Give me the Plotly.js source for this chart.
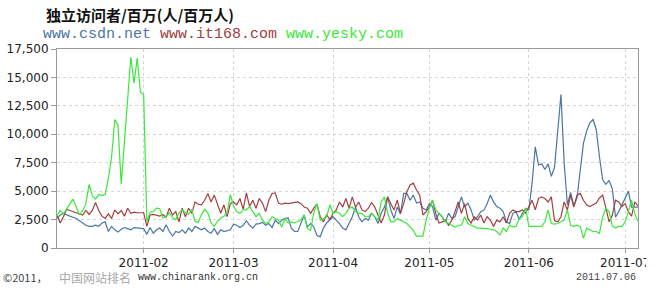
<!DOCTYPE html>
<html>
<head>
<meta charset="utf-8">
<script src="https://cdn.plot.ly/plotly-3.0.1.min.js"></script>
<style>
html,body{margin:0;padding:0;background:#fff;}
#chart{width:656px;height:292px;}
</style>
</head>
<body>
<div id="chart"></div>
<script>
// ---- data (values in thousands; daily from 2011-01-05 to 2011-07-05) ----
var startDate = '2011-01-05';
var seriesNames = ['www.csdn.net', 'www.it168.com', 'www.yesky.com'];
var seriesColors = ['#4a76a4', '#a04040', '#3ae83a'];

var csdn = [
  // Jan 5-31
  2.6, 2.9, 3.05, 2.9, 2.8, 2.7, 2.6, 2.4, 2.2, 2.0, 1.9, 1.9, 2.0, 1.9, 2.2, 2.3, 1.45, 1.9, 1.6, 1.4, 1.65, 1.8, 1.7, 1.6, 1.8, 1.75, 1.7,
  // Feb
  1.7, 1.2, 1.8, 1.3, 1.6, 1.75, 1.45, 2.05, 1.45, 1.05, 1.45, 1.35, 1.6, 1.3, 1.75, 1.45, 1.9, 1.75, 1.6, 1.75, 1.45, 1.3, 1.7, 1.2, 1.6, 1.45, 1.55, 1.6,
  // Mar
  2.1, 2.0, 1.8, 2.0, 2.4, 2.0, 1.75, 2.1, 2.15, 2.25, 2.0, 2.15, 1.8, 2.45, 2.15, 2.45, 2.6, 2.65, 1.75, 1.45, 1.45, 2.2, 2.9, 1.85, 2.15, 1.85, 1.1, 1.0, 1.75, 2.2, 2.5,
  // Apr
  2.75, 2.45, 2.15, 1.75, 1.6, 2.15, 2.75, 3.6, 2.75, 2.3, 2.6, 2.45, 3.05, 2.75, 2.15, 3.05, 3.6, 4.5, 3.35, 2.6, 3.6, 3.0, 4.8, 4.8, 4.2, 4.65, 3.95, 4.05, 3.5, 3.35,
  // May
  3.9, 3.65, 2.45, 3.05, 2.75, 2.3, 3.05, 2.6, 2.75, 3.6, 4.5, 3.6, 3.95, 3.35, 2.45, 2.75, 3.2, 3.35, 3.9, 4.65, 4.05, 3.65, 3.5, 3.2, 2.3, 2.15, 3.05, 3.2, 2.5, 3.05, 3.5,
  // Jun
  3.35, 5.7, 8.9, 7.3, 7.4, 6.9, 7.4, 6.3, 7.1, 10.5, 13.5, 7.5, 3.8, 4.9, 3.7, 4.4, 7.0, 9.2, 10.3, 11.0, 11.3, 10.4, 8.0, 6.0, 5.6, 5.95, 5.2, 2.7, 3.2, 3.8,
  // Jul 1-5
  4.4, 5.0, 3.6, 3.6, 3.6
];

var it168 = [
  // Jan 5-31
  2.9, 2.2, 2.75, 3.4, 3.3, 3.2, 3.1, 3.0, 2.9, 3.3, 2.95, 3.3, 4.0, 3.3, 2.8, 2.6, 3.0, 2.6, 3.35, 3.0, 3.3, 2.8, 3.5, 3.05, 3.15, 3.1, 3.1,
  // Feb
  3.1, 1.9, 2.9, 2.95, 2.85, 2.8, 2.95, 2.7, 3.5, 2.9, 3.2, 2.3, 3.5, 2.75, 3.5, 3.05, 4.05, 3.85, 3.8, 4.2, 4.8, 4.05, 4.65, 3.8, 3.05, 3.8, 2.75, 3.9,
  // Mar
  4.05, 3.8, 4.35, 3.4, 4.85, 3.65, 4.2, 3.5, 4.35, 3.95, 3.2, 4.2, 4.8, 4.85, 3.95, 3.85, 3.95, 3.9, 3.95, 4.0, 4.05, 3.9, 3.6, 3.5, 3.05, 3.5, 3.85, 2.75, 2.3, 2.9, 2.5,
  // Apr
  3.05, 3.35, 4.05, 3.6, 4.35, 3.5, 4.5, 3.6, 4.05, 3.35, 3.2, 3.5, 4.0, 3.6, 2.9, 2.2, 2.9, 4.5, 3.9, 3.35, 4.2, 3.05, 3.9, 4.95, 5.55, 5.7, 5.1, 4.65, 2.9, 3.2,
  // May
  3.6, 4.2, 3.05, 2.2, 2.3, 2.45, 2.0, 2.45, 3.2, 4.05, 3.05, 3.9, 2.6, 2.2, 2.75, 2.45, 2.9, 2.2, 2.75, 2.45, 1.9, 2.45, 2.3, 2.75, 2.2, 3.05, 3.35, 3.2, 3.2, 3.35, 3.05,
  // Jun
  3.6, 4.2, 3.35, 4.35, 4.5, 4.35, 4.05, 4.5, 2.4, 2.3, 2.75, 4.05, 3.35, 4.65, 3.6, 4.65, 4.8, 4.2, 3.8, 3.65, 3.8, 3.95, 4.4, 4.65, 3.5, 2.3, 2.9, 4.2, 4.05, 3.65,
  // Jul 1-5
  3.9, 3.2, 2.8, 4.05, 3.7
];

var yesky = [
  // Jan 5-31
  2.8, 3.3, 3.0, 3.4, 3.8, 4.3, 3.6, 2.9, 3.3, 3.9, 5.6, 4.6, 4.3, 4.7, 4.6, 4.7, 6.1, 8.0, 11.3, 10.8, 5.6, 9.7, 13.0, 16.8, 14.5, 16.7, 13.7,
  // Feb
  13.5, 2.3, 3.15, 3.2, 3.5, 3.45, 2.65, 2.75, 3.1, 2.65, 2.5, 3.1, 3.35, 3.1, 2.95, 3.4, 2.35, 2.25, 2.95, 3.4, 3.1, 2.2, 1.9, 2.35, 2.65, 2.8, 3.1, 4.7,
  // Mar
  3.7, 3.2, 3.05, 3.35, 3.35, 3.65, 3.2, 2.75, 3.05, 2.45, 2.15, 2.3, 2.75, 2.6, 2.45, 1.85, 2.6, 2.2, 2.3, 2.2, 2.3, 2.45, 2.9, 1.7, 1.55, 3.1, 3.9, 2.45, 2.6, 2.75, 3.8,
  // Apr
  3.05, 3.2, 3.05, 2.75, 3.05, 3.5, 3.6, 3.2, 3.05, 3.05, 2.75, 2.75, 3.05, 2.75, 2.45, 4.05, 4.5, 3.05, 2.3, 2.3, 2.6, 2.45, 2.3, 2.15, 1.85, 1.55, 1.05, 1.05, 1.05, 2.45,
  // May
  3.5, 4.2, 3.35, 3.05, 2.75, 2.3, 2.15, 2.0, 1.85, 2.0, 2.0, 2.75, 2.15, 2.0, 1.85, 1.75, 1.75, 1.75, 1.7, 1.65, 1.6, 1.45, 1.15, 1.75, 1.45, 2.0, 1.85, 1.9, 2.6, 2.75, 3.5,
  // Jun
  1.9, 1.9, 1.9, 1.9, 1.9, 2.3, 3.35, 2.15, 2.1, 2.15, 2.3, 2.45, 3.35, 2.0, 1.9, 2.0, 1.9, 0.85, 1.75, 1.6, 1.45, 1.45, 1.3, 2.75, 3.5, 3.2, 1.95, 1.75, 1.9, 1.9,
  // Jul 1-5
  2.3, 3.2, 4.2, 3.0, 2.35
];

var xTickVals = ['2011-02-01', '2011-03-01', '2011-04-01', '2011-05-01', '2011-06-01', '2011-07-01'];
var xTickText = ['2011-02', '2011-03', '2011-04', '2011-05', '2011-06', '2011-07'];
var yTickVals = [0, 2.5, 5, 7.5, 10, 12.5, 15, 17.5];
var yTickText = ['0', '2,500', '5,000', '7,500', '10,000', '12,500', '15,000', '17,500'];

var titleText = '独立访问者/百万(人/百万人)';
var footerCopy = '©2011，';
var footerName = '中国网站排名';
var footerSite = 'www.chinarank.org.cn';
var footerDate = '2011.07.06';

// ---- build dates ----
function buildDates(start, n) {
  var out = [];
  var d = new Date(start + 'T00:00:00Z');
  for (var i = 0; i < n; i++) {
    var t = new Date(d.getTime() + i * 86400000);
    out.push(t.toISOString().slice(0, 10));
  }
  return out;
}
var dates = buildDates(startDate, csdn.length);

var allSeries = [csdn, it168, yesky];
var traces = allSeries.map(function (vals, i) {
  return {
    type: 'scatter', mode: 'lines', x: dates, y: vals, name: seriesNames[i],
    line: {color: seriesColors[i], width: 1.2}, hoverinfo: 'skip'
  };
});

// pixel helpers for annotation placement
var L = 57, R = 638, T = 49, B = 248;
function px(x) { return (x - L) / (R - L); }
function py(y) { return (B - y) / (B - T); }

var legendHtml = seriesNames.map(function (n, i) {
  return '<span style="color:' + seriesColors[i] + '">' + n + '</span>';
}).join(' ');

var layout = {
  width: 656, height: 292,
  margin: {l: L, r: 656 - R, t: T, b: 292 - B, pad: 0},
  paper_bgcolor: '#ffffff', plot_bgcolor: '#ffffff',
  showlegend: false,
  xaxis: {
    type: 'date', range: [dates[0], dates[dates.length - 1]],
    tickmode: 'array', tickvals: xTickVals, ticktext: xTickText,
    showgrid: true, gridcolor: '#d6d6d6', griddash: '3px,3px', gridwidth: 1,
    showline: true, mirror: true, linecolor: '#9a9a9a', linewidth: 1,
    ticks: 'outside', ticklen: 4, tickcolor: '#9a9a9a',
    tickfont: {family: 'DejaVu Sans', size: 12, color: '#222'},
    zeroline: false, fixedrange: true
  },
  yaxis: {
    range: [0, 17.5],
    tickmode: 'array', tickvals: yTickVals, ticktext: yTickText,
    showgrid: true, gridcolor: '#d6d6d6', griddash: '3px,3px', gridwidth: 1,
    showline: true, mirror: true, linecolor: '#9a9a9a', linewidth: 1,
    ticks: 'outside', ticklen: 5, tickcolor: '#9a9a9a',
    tickfont: {family: 'DejaVu Sans', size: 12, color: '#222'},
    zeroline: false, fixedrange: true
  },
  shapes: [{
    type: 'rect', layer: 'above', xref: 'paper', yref: 'paper',
    x0: px(646), x1: px(660), y0: py(272), y1: py(249.5),
    fillcolor: '#ffffff', line: {width: 0}
  }],
  annotations: [
    {text: '<b>' + titleText + '</b>', xref: 'paper', yref: 'paper', x: px(44), y: py(14),
     xanchor: 'left', yanchor: 'middle', showarrow: false,
     font: {family: 'Noto Sans CJK SC', size: 15, color: '#111'}},
    {text: legendHtml, xref: 'paper', yref: 'paper', x: px(41), y: py(35),
     xanchor: 'left', yanchor: 'middle', showarrow: false,
     font: {family: 'Liberation Mono', size: 15, color: '#333'}},
    {text: footerCopy, xref: 'paper', yref: 'paper', x: px(1), y: py(277),
     xanchor: 'left', yanchor: 'middle', showarrow: false,
     font: {family: 'Noto Sans CJK SC', size: 11, color: '#444'}},
    {text: footerName, xref: 'paper', yref: 'paper', x: px(57), y: py(277),
     xanchor: 'left', yanchor: 'middle', showarrow: false,
     font: {family: 'Noto Sans CJK SC', size: 12, color: '#a8a8a8'}},
    {text: footerSite, xref: 'paper', yref: 'paper', x: px(136), y: py(277),
     xanchor: 'left', yanchor: 'middle', showarrow: false,
     font: {family: 'Liberation Mono', size: 10, color: '#333'}},
    {text: footerDate, xref: 'paper', yref: 'paper', x: px(574), y: py(277),
     xanchor: 'left', yanchor: 'middle', showarrow: false,
     font: {family: 'Liberation Mono', size: 10, color: '#444'}}
  ]
};

Plotly.newPlot('chart', traces, layout, {displayModeBar: false, staticPlot: true});
</script>
</body>
</html>
